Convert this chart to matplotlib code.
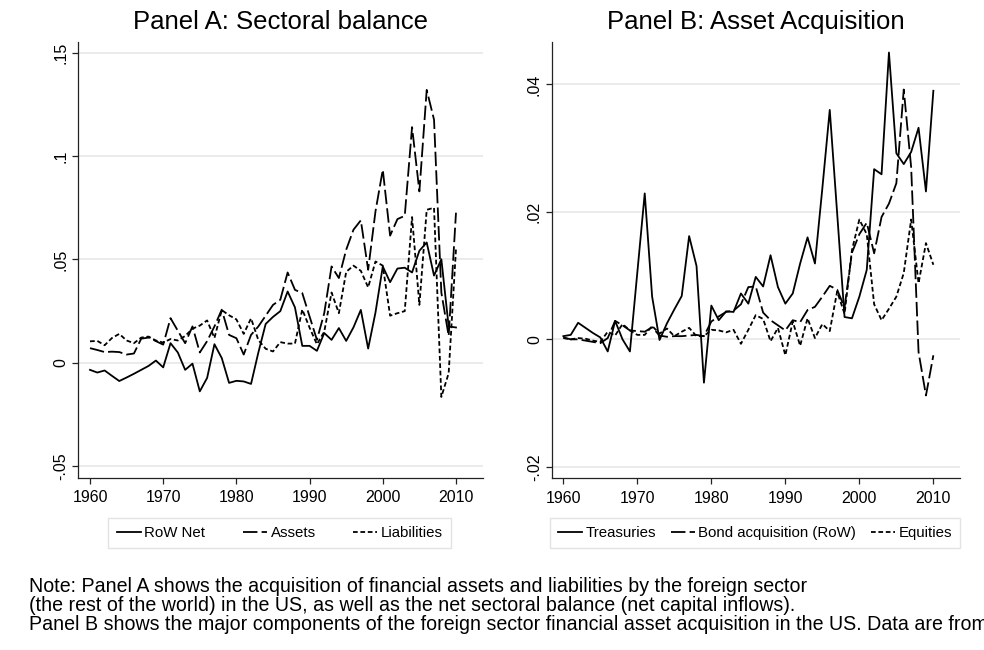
import matplotlib
matplotlib.use('Agg')
import matplotlib.pyplot as plt

plt.rcParams['font.family'] = ['Liberation Sans', 'DejaVu Sans']

years = list(range(1960, 2011))

# Panel A: sectoral balance (share of GDP)
row_net = [-0.0034, -0.0047, -0.0037, -0.0063, -0.0088, -0.0071, -0.0053, -0.0034, -0.0015, 0.0011,
           -0.0022, 0.0095, 0.0050, -0.0034, -0.0004, -0.0138, -0.0073, 0.0090, 0.0023, -0.0097,
           -0.0087, -0.0090, -0.0102, 0.0050, 0.0188, 0.0222, 0.0250, 0.0345, 0.0268, 0.0082,
           0.0082, 0.0058, 0.0144, 0.0111, 0.0168, 0.0106, 0.0172, 0.0256, 0.0069, 0.0243,
           0.0466, 0.0390, 0.0456, 0.0460, 0.0437, 0.0542, 0.0582, 0.0422, 0.0501, 0.0176,
           0.0171]
assets = [0.0071, 0.0062, 0.0052, 0.0054, 0.0052, 0.0040, 0.0045, 0.0117, 0.0122, 0.0105,
          0.0088, 0.0216, 0.0155, 0.0095, 0.0176, 0.0050, 0.0105, 0.0176, 0.0257, 0.0135,
          0.0119, 0.0040, 0.0135, 0.0176, 0.0228, 0.0280, 0.0305, 0.0437, 0.0353, 0.0337,
          0.0224, 0.0111, 0.0240, 0.0466, 0.0410, 0.0547, 0.0644, 0.0689, 0.0450, 0.0732,
          0.0934, 0.0615, 0.0695, 0.0711, 0.1140, 0.0829, 0.1320, 0.1176, 0.0340, 0.0130,
          0.0726]
liabilities = [0.0104, 0.0106, 0.0085, 0.0120, 0.0140, 0.0108, 0.0095, 0.0122, 0.0127, 0.0108,
               0.0098, 0.0115, 0.0108, 0.0130, 0.0165, 0.0180, 0.0205, 0.0120, 0.0255, 0.0230,
               0.0210, 0.0140, 0.0215, 0.0110, 0.0068, 0.0055, 0.0100, 0.0093, 0.0093, 0.0258,
               0.0170, 0.0090, 0.0150, 0.0340, 0.0240, 0.0440, 0.0470, 0.0445, 0.0365, 0.0490,
               0.0470, 0.0228, 0.0240, 0.0250, 0.0705, 0.0280, 0.0740, 0.0750, -0.0165, -0.0050,
               0.0550]

# Panel B: asset acquisition
treasuries = [0.0005, 0.0007, 0.0026, 0.0018, 0.0010, 0.0003, -0.0019, 0.0029, 0.0000, -0.0019,
              0.0105, 0.0229, 0.0067, -0.0001, 0.0025, 0.0047, 0.0068, 0.0162, 0.0115, -0.0068,
              0.0053, 0.0030, 0.0044, 0.0043, 0.0072, 0.0056, 0.0098, 0.0083, 0.0132, 0.0082,
              0.0056, 0.0072, 0.0119, 0.0160, 0.0119, 0.0237, 0.0360, 0.0198, 0.0035, 0.0033,
              0.0067, 0.0109, 0.0267, 0.0259, 0.0450, 0.0292, 0.0275, 0.0294, 0.0332, 0.0232,
              0.0390]
bonds = [0.0003, 0.0000, 0.0000, -0.0002, -0.0004, -0.0006, 0.0002, 0.0029, 0.0022, 0.0014,
         0.0013, 0.0012, 0.0019, 0.0006, 0.0004, 0.0005, 0.0005, 0.0006, 0.0007, 0.0005,
         0.0028, 0.0036, 0.0043, 0.0045, 0.0055, 0.0082, 0.0083, 0.0042, 0.0030, 0.0022,
         0.0014, 0.0030, 0.0027, 0.0046, 0.0051, 0.0067, 0.0084, 0.0078, 0.0050, 0.0136,
         0.0165, 0.0183, 0.0135, 0.0192, 0.0213, 0.0245, 0.0392, 0.0270, -0.0020, -0.0088,
         -0.0025]
equities = [0.0002, 0.0000, 0.0002, 0.0001, -0.0002, -0.0004, 0.0012, 0.0006, 0.0024, 0.0014,
            0.0007, 0.0007, 0.0021, 0.0009, 0.0017, 0.0005, 0.0012, 0.0018, 0.0005, 0.0005,
            0.0015, 0.0014, 0.0011, 0.0015, -0.0007, 0.0015, 0.0038, 0.0032, -0.0003, 0.0018,
            -0.0025, 0.0028, -0.0010, 0.0033, 0.0002, 0.0024, 0.0013, 0.0075, 0.0040, 0.0140,
            0.0188, 0.0165, 0.0055, 0.0030, 0.0048, 0.0067, 0.0104, 0.0188, 0.0088, 0.0151,
            0.0117]

xticks = [1960, 1970, 1980, 1990, 2000, 2010]
yticks_a = [-0.05, 0, 0.05, 0.1, 0.15]
ylabels_a = ['-.05', '0', '.05', '.1', '.15']
yticks_b = [-0.02, 0, 0.02, 0.04]
ylabels_b = ['-.02', '0', '.02', '.04']

long_dash = (0, (8, 2.3))
short_dash = (0, (2.6, 1.5))
lw = 1.3

fig = plt.figure(figsize=(9.84, 6.5), dpi=100)
axA = fig.add_axes([78 / 984, 1 - 478 / 650, 404.7 / 984, 436.3 / 650])
axB = fig.add_axes([551.7 / 984, 1 - 478.3 / 650, 408.3 / 984, 436.6 / 650])


def style(ax, yt, yl, ylim):
    ax.set_xlim(1958.36, 2013.65)
    ax.set_ylim(*ylim)
    ax.set_xticks(xticks)
    ax.set_yticks(yt, yl)
    for s in ['top', 'right']:
        ax.spines[s].set_visible(False)
    for s in ['left', 'bottom']:
        ax.spines[s].set_color('#222222')
        ax.spines[s].set_linewidth(0.9)
    ax.tick_params(direction='out', length=4, width=0.9, colors='#222222',
                   labelsize=11.5, labelcolor='black')
    ax.tick_params(axis='x', pad=5)
    ax.tick_params(axis='y', pad=3)
    for lab in ax.get_yticklabels():
        lab.set_rotation(90)
        lab.set_va('center')
    ax.yaxis.grid(True, color='#e8e8e8', lw=1.2)
    ax.set_axisbelow(True)


axA.plot(years, row_net, color='black', lw=lw, ls='-', label='RoW Net')
axA.plot(years, assets, color='black', lw=lw, ls=long_dash, label='Assets')
axA.plot(years, liabilities, color='black', lw=lw, ls=short_dash, label='Liabilities')
style(axA, yticks_a, ylabels_a, (-0.0557, 0.1553))
axA.set_title('Panel A: Sectoral balance', fontsize=18.5, pad=9)

axB.plot(years, treasuries, color='black', lw=lw, ls='-', label='Treasuries')
axB.plot(years, bonds, color='black', lw=lw, ls=long_dash, label='Bond acquisition (RoW)')
axB.plot(years, equities, color='black', lw=lw, ls=short_dash, label='Equities')
style(axB, yticks_b, ylabels_b, (-0.0218, 0.0467))
axB.set_xlim(1958.43, 2013.6)
axB.set_title('Panel B: Asset Acquisition', fontsize=18.5, pad=9)

leg_kw = dict(loc='center', ncol=3, fontsize=10.8, frameon=True, fancybox=False,
              handlelength=1.6, handletextpad=0.25, borderpad=0.55, edgecolor='#dddddd',
              bbox_transform=fig.transFigure)
legA = axA.legend(bbox_to_anchor=(279.7 / 984, 1 - 533 / 650), columnspacing=2.5, **leg_kw)
legB = axB.legend(bbox_to_anchor=(755 / 984, 1 - 533 / 650), columnspacing=0.95, **leg_kw)
for leg in (legA, legB):
    leg.get_frame().set_linewidth(1.0)

# the last line runs past the right edge, as in the original
note = ['Note: Panel A shows the acquisition of financial assets and liabilities by the foreign sector',
        '(the rest of the world) in the US, as well as the net sectoral balance (net capital inflows).',
        'Panel B shows the major components of the foreign sector financial asset acquisition in the US. Data are from']
for i, line in enumerate(note):
    fig.text(29 / 984, 1 - (586 + i * 19.5) / 650, line, fontsize=14.1, va='center', ha='left')

fig.savefig('out.png', dpi=100)
